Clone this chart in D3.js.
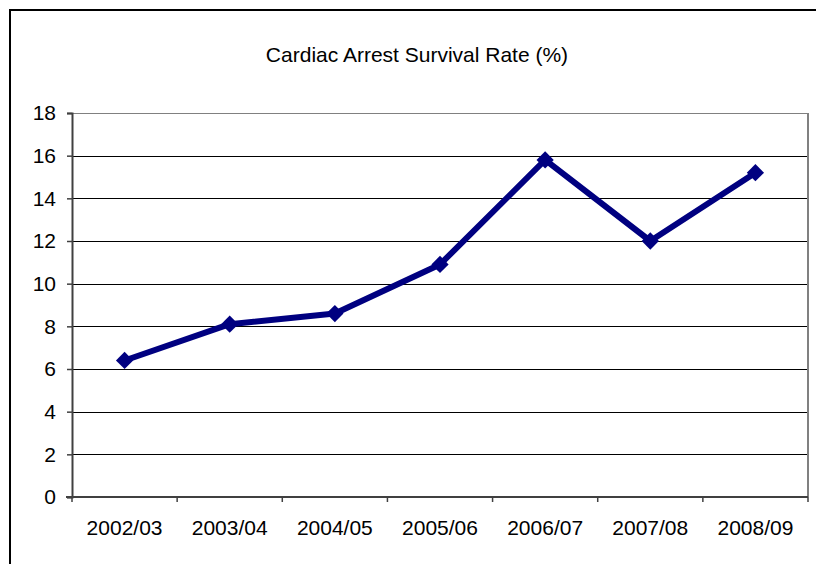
<!DOCTYPE html>
<html>
<head>
<meta charset="utf-8">
<script src="https://cdn.jsdelivr.net/npm/d3@7"></script>
<style>
  html, body { margin: 0; padding: 0; background: #fff; }
  svg { display: block; font-family: "Liberation Sans", Arial, sans-serif; }
</style>
</head>
<body>
<svg id="chart" width="816" height="564"></svg>
<script>
// Survival rate by financial year
const years = ["2002/03", "2003/04", "2004/05", "2005/06", "2006/07", "2007/08", "2008/09"];
const survivalRate = [6.4, 8.1, 8.6, 10.9, 15.8, 12.0, 15.2];
const yTicks = [0, 2, 4, 6, 8, 10, 12, 14, 16, 18];
const chartTitle = "Cardiac Arrest Survival Rate (%)";

const svg = d3.select("#chart");
const W = 816, H = 564;
const plot = { left: 72, top: 113, right: 808, bottom: 497 };

// Outer chart border (runs off the right and bottom edges)
svg.append("rect")
  .attr("x", 10).attr("y", 10)
  .attr("width", W + 20).attr("height", H + 20)
  .attr("fill", "#fff").attr("stroke", "#000").attr("stroke-width", 2);

svg.append("text")
  .attr("x", 417).attr("y", 62)
  .attr("text-anchor", "middle")
  .attr("font-size", 21)
  .attr("fill", "#000")
  .text(chartTitle);

const x = d3.scaleBand().domain(years).range([plot.left, plot.right]).padding(0);
const y = d3.scaleLinear().domain([0, 18]).range([plot.bottom, plot.top]);

// Horizontal gridlines
svg.append("g")
  .selectAll("line")
  .data(yTicks.filter(d => d > 0))
  .join("line")
  .attr("x1", plot.left).attr("x2", plot.right)
  .attr("y1", d => Math.round(y(d)) + 0.5).attr("y2", d => Math.round(y(d)) + 0.5)
  .attr("stroke", d => d === 18 ? "#808080" : "#000")
  .attr("stroke-width", 1);

// Right edge of plot area
svg.append("line")
  .attr("x1", plot.right).attr("x2", plot.right)
  .attr("y1", plot.top).attr("y2", plot.bottom)
  .attr("stroke", "#808080").attr("stroke-width", 2);

// Y axis
const yAxis = svg.append("g")
  .attr("transform", `translate(${plot.left},0)`)
  .call(d3.axisLeft(y).tickValues(yTicks).tickSize(5).tickPadding(11).tickFormat(d3.format("d")));
yAxis.select(".domain").attr("stroke", "#404040").attr("stroke-width", 2);
yAxis.selectAll(".tick line").attr("stroke", "#404040").attr("stroke-width", 1.5);
yAxis.selectAll(".tick text")
  .attr("font-size", 21).attr("fill", "#000")
  .attr("font-family", "'Liberation Sans', Arial, sans-serif");

// X axis: ticks on category boundaries
const xAxisG = svg.append("g")
  .attr("transform", `translate(0,${plot.bottom})`);
xAxisG.append("line")
  .attr("x1", plot.left - 6).attr("x2", plot.right)
  .attr("y1", 0).attr("y2", 0)
  .attr("stroke", "#404040").attr("stroke-width", 2);
const bounds = years.map(d => x(d)).concat([plot.right]);
xAxisG.selectAll("line.tk")
  .data(bounds)
  .join("line")
  .attr("class", "tk")
  .attr("x1", d => d).attr("x2", d => d)
  .attr("y1", 0).attr("y2", 5)
  .attr("stroke", "#404040").attr("stroke-width", 1.5);
xAxisG.selectAll("text")
  .data(years)
  .join("text")
  .attr("x", d => x(d) + x.bandwidth() / 2)
  .attr("y", 38)
  .attr("text-anchor", "middle")
  .attr("font-size", 21)
  .attr("fill", "#000")
  .text(d => d);

// Series line
const cx = d => x(d) + x.bandwidth() / 2;
const line = d3.line()
  .x((d, i) => cx(years[i]))
  .y(d => y(d));
svg.append("path")
  .datum(survivalRate)
  .attr("d", line)
  .attr("fill", "none")
  .attr("stroke", "#000080")
  .attr("stroke-width", 6)
  .attr("stroke-linejoin", "round");

// Diamond markers
const diamond = d3.symbol().type(d3.symbolDiamond2).size(190);
svg.append("g")
  .selectAll("path")
  .data(survivalRate)
  .join("path")
  .attr("transform", (d, i) => `translate(${cx(years[i])},${y(d)})`)
  .attr("d", diamond)
  .attr("fill", "#000080");
</script>
</body>
</html>
